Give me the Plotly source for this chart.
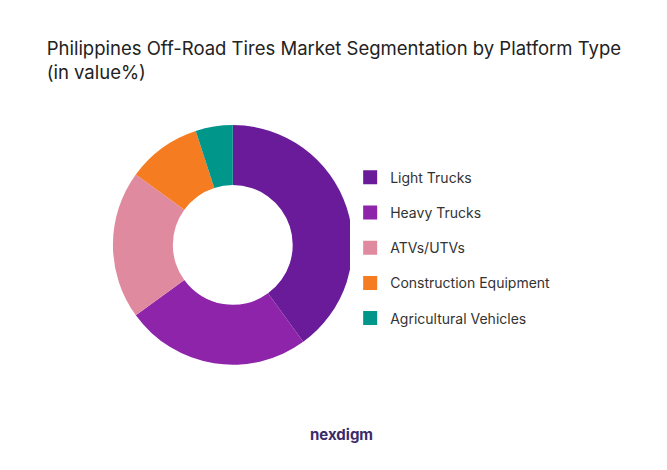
import plotly.graph_objects as go

segments = ["Light Trucks", "Heavy Trucks", "ATVs/UTVs", "Construction Equipment", "Agricultural Vehicles"]
shares = [40, 25, 20, 10, 5]
colors = ["#6A1B9A", "#8E24AA", "#E08AA0", "#F57C20", "#00968A"]

fig = go.Figure(go.Pie(
    labels=segments, values=shares, hole=0.5, sort=False, direction="clockwise",
    rotation=0, marker=dict(colors=colors), textinfo="none", hoverinfo="label+percent",
    domain=dict(x=[0.157, 0.517], y=[0.241, 0.751]), showlegend=False,
))

# legend entries as hidden scatter traces so item spacing can be set
for name, col in zip(segments, colors):
    fig.add_trace(go.Scatter(x=[None], y=[None], mode="markers", name=name, legendgroup=name,
                             marker=dict(symbol="square", size=14, color=col)))

fig.update_layout(
    width=667, height=470, paper_bgcolor="white", plot_bgcolor="white",
    margin=dict(l=0, r=0, t=0, b=0),
    font=dict(family="Inter, Lato, sans-serif", color="#222"),
    xaxis=dict(visible=False), yaxis=dict(visible=False),
    title=dict(text="Philippines Off-Road Tires Market Segmentation by Platform Type<br>(in value%)",
               x=0.058, xanchor="left", y=0.9, yanchor="middle",
               font=dict(size=18.5, color="#222")),
    legend=dict(x=0.513, y=0.49, xanchor="left", yanchor="middle",
                font=dict(size=14, color="#333"), tracegroupgap=14, itemwidth=30),
    annotations=[dict(text="<b>nexdigm</b>", x=0.5, y=0.068, xref="paper", yref="paper",
                      showarrow=False, font=dict(size=15, color="#3b2a6a"))],
)

fig.write_html("out.html")
